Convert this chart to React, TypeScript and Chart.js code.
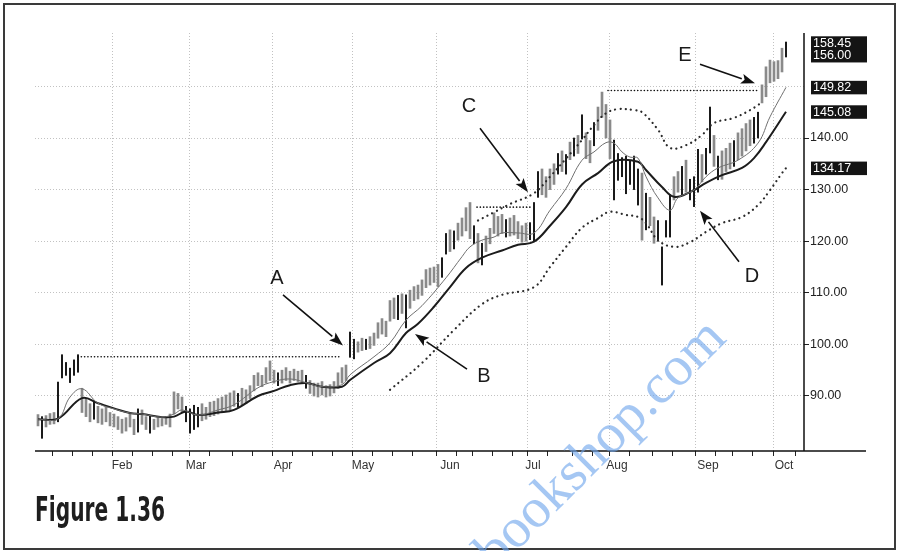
import React, { useEffect, useRef } from 'react';
import { Chart, registerables } from 'chart.js';

Chart.register(...registerables);

// ---- daily high/low bars (trading-day index 0..187) ----
const barLows = [
  84.2, 81.8, 84.0, 84.5, 84.6, 85.0, 93.5, 94.0, 92.6, 94.0,
  94.6, 86.8, 86.0, 85.0, 85.5, 84.8, 84.5, 85.0, 84.2, 84.0,
  83.5, 82.8, 83.2, 84.0, 82.5, 83.0, 84.5, 83.5, 82.8, 83.5,
  84.0, 84.2, 84.5, 84.0, 86.5, 87.5, 86.8, 85.0, 82.8, 83.5,
  84.0, 85.2, 85.5, 86.0, 86.2, 86.5, 86.8, 87.0, 87.3, 88.0,
  87.8, 88.3, 88.5, 89.5, 91.0, 92.0, 91.8, 92.5, 93.0, 92.5,
  92.0, 92.5, 93.0, 92.5, 93.0, 92.8, 92.5, 91.5, 90.5, 90.0,
  89.8, 90.2, 89.8, 90.0, 90.6, 91.5, 92.5, 93.0, 97.5, 97.2,
  98.5, 98.8, 99.0, 99.2, 99.8, 101.2, 102.0, 101.5, 104.5, 105.0,
  104.8, 106.0, 103.2, 107.0, 108.5, 108.8, 109.5, 111.0, 111.5, 112.0,
  111.2, 113.0, 117.5, 118.0, 118.5, 120.2, 121.0, 122.0, 120.5, 119.5,
  115.8, 115.4, 118.0, 119.5, 121.5, 121.0, 121.5, 120.8, 121.0, 121.2,
  120.5, 119.8, 120.0, 120.3, 120.0, 128.5, 129.0, 128.5, 130.0, 131.0,
  133.0, 133.5, 133.0, 135.8, 136.5, 137.0, 139.8, 136.0, 135.2, 138.5,
  141.5, 144.0, 140.0, 136.0, 128.0, 131.8, 132.5, 129.2, 131.0, 130.0,
  127.0, 120.2, 122.2, 123.0, 119.6, 120.0, 111.5, 120.8, 120.8, 128.0,
  129.5, 129.0, 129.5, 128.0, 126.7, 129.5, 131.5, 133.0, 137.1, 134.5,
  131.9, 132.0, 133.5, 134.0, 134.5, 135.8, 136.5, 137.5, 138.5, 139.0,
  140.0, 146.8, 148.0, 150.7, 151.0, 151.5, 152.8, 155.7,
];
const barHighs = [
  86.4, 86.0, 86.2, 86.6, 86.8, 92.7, 98.0, 96.5, 95.4, 97.0,
  98.0, 91.5, 89.5, 88.5, 89.0, 88.0, 87.5, 87.8, 86.8, 86.5,
  86.0, 85.5, 85.8, 86.5, 85.5, 87.5, 87.3, 86.0, 86.2, 85.5,
  85.8, 85.6, 86.0, 86.5, 90.8, 90.5, 89.8, 88.0, 87.5, 88.2,
  87.8, 88.5, 87.8, 88.8, 89.0, 89.5, 89.8, 90.2, 90.6, 91.0,
  90.5, 91.5, 91.2, 92.0, 94.0, 94.5, 94.0, 95.5, 96.8, 95.0,
  94.5, 95.0, 95.5, 94.8, 95.2, 94.8, 95.0, 94.0, 93.0, 92.5,
  92.5, 92.8, 92.0, 92.2, 92.8, 94.5, 95.5, 96.0, 102.4, 101.0,
  100.5, 101.2, 101.0, 101.5, 102.2, 104.2, 105.0, 104.5, 108.5, 109.0,
  109.5, 109.8, 109.6, 110.5, 111.2, 111.5, 112.5, 114.5, 114.8, 115.0,
  115.5, 116.8, 121.5, 122.2, 122.0, 123.5, 124.5, 126.5, 127.5, 123.0,
  121.5, 119.6, 121.0, 122.5, 125.5, 124.8, 125.2, 124.2, 124.5, 125.0,
  123.8, 123.0, 123.5, 123.6, 127.5, 133.5, 134.0, 132.5, 134.0, 135.0,
  137.0, 137.5, 136.8, 139.2, 140.0, 140.5, 144.5, 141.0, 139.5, 143.0,
  146.0, 148.9, 146.5, 143.5, 139.6, 137.0, 136.2, 136.5, 135.5, 136.5,
  134.0, 133.2, 129.3, 128.5, 124.7, 124.0, 118.9, 124.0, 129.0, 132.5,
  133.5, 134.5, 135.7, 132.0, 132.5, 137.8, 136.8, 138.0, 146.0, 140.5,
  136.5, 137.5, 138.0, 139.0, 139.5, 141.0, 141.8, 142.8, 143.5, 144.0,
  145.0, 150.3, 153.8, 155.1, 154.8, 155.0, 157.4, 158.6,
];
// g = grey bar, k = black bar (one letter per trading day)
const barTones = (
  'gkgggkkkkk' + 'kgggkggggg' + 'gggggkggkg' + 'gggggggkkk' +
  'kggggggggg' + 'kggggggggg' + 'kggggggkgg' + 'ggggggggkk' +
  'ggkggggggg' + 'kgkggggggg' + 'gkkgkggggk' + 'gkgggggkgg' +
  'gggkkkgggg' + 'kgkgkgkggk' + 'ggggkkkkkk' + 'kgkggkkkkg' +
  'gkgkkkgkkg' + 'kgggkggggk' + 'kggggggk'
).split('');

// ---- moving averages ----
const fastMaDays = [0, 5, 8, 11, 15, 19, 23, 26, 31, 34, 36, 40, 45, 49, 55, 59, 63, 67, 71, 76, 78, 84, 88, 92, 96, 102, 106, 108, 111, 114, 116, 120, 124, 128, 132, 136, 139, 142, 144, 146, 148, 150, 152, 155, 158, 160, 164, 167, 170, 175, 180, 183, 187];
const fastMaValues = [85.5, 85.6, 89.8, 91.4, 88.6, 87.5, 86.7, 86.5, 85.9, 86.5, 87.3, 86.3, 87.3, 88.3, 91.6, 92.8, 93.3, 92.6, 91.8, 92.2, 94.1, 97.6, 100.3, 104.7, 107.5, 112.9, 117.0, 118.9, 120.2, 120.8, 121.6, 121.6, 121.6, 126.0, 130.2, 135.7, 137.3, 139.1, 139.0, 137.3, 136.3, 136.1, 132.5, 128.4, 126.0, 128.4, 129.9, 132.5, 134.2, 135.7, 139.0, 144.1, 149.82];
const slowMaDays = [0, 5, 11, 15, 19, 23, 26, 31, 34, 37, 40, 45, 49, 55, 59, 63, 67, 71, 76, 78, 84, 88, 92, 95, 99, 103, 107, 111, 116, 120, 124, 128, 132, 136, 140, 144, 150, 152, 156, 159, 163, 167, 171, 176, 179, 182, 187];
const slowMaValues = [85.5, 85.6, 89.6, 88.6, 87.6, 86.7, 86.5, 85.9, 86.0, 87.0, 86.3, 86.8, 87.3, 90.0, 91.0, 92.1, 92.5, 91.8, 91.8, 93.1, 96.4, 98.3, 102.2, 104.0, 107.3, 111.1, 114.8, 116.8, 118.2, 119.3, 119.9, 123.0, 126.6, 131.0, 133.2, 135.5, 135.4, 133.8, 130.5, 128.6, 129.5, 131.3, 132.8, 134.2, 136.1, 139.2, 145.08];

// ---- envelope bands ----
const upperBandDays = [110, 114, 118, 124, 128, 132, 136, 139, 142, 145, 149, 151, 155, 158, 162, 166, 169, 174, 178, 180, 181];
const upperBandValues = [124.0, 125.6, 127.2, 129.3, 132.5, 136.0, 139.6, 142.5, 144.8, 145.6, 145.4, 145.0, 141.6, 138.1, 138.6, 140.6, 142.9, 143.9, 145.4, 146.4, 147.0];
const lowerBandDays = [88, 96, 104, 111, 116, 124, 128, 132, 136, 140, 143, 147, 150, 152, 155, 159, 163, 167, 171, 176, 180, 183, 186, 187];
const lowerBandValues = [91.2, 96.4, 102.8, 107.8, 109.6, 111.1, 115.0, 118.9, 122.6, 124.5, 125.7, 125.1, 124.7, 123.5, 120.2, 118.9, 119.8, 121.8, 123.5, 124.7, 127.0, 129.9, 133.2, 134.17];

// ---- horizontal dotted resistance lines ----
const resistanceStart = [10, 109.75, 142.5];
const resistanceEnd = [76, 123.5, 180];
const resistanceValue = [97.6, 126.6, 149.2];

// ---- axes ----
const monthLabels = ['Feb', 'Mar', 'Apr', 'May', 'Jun', 'Jul', 'Aug', 'Sep', 'Oct'];
const monthDays = [21, 39.5, 61.25, 81.25, 103, 123.75, 144.75, 167.5, 186.5];
const extraGridDays = [1];
const priceTicks = [90, 100, 110, 120, 130, 140];
const priceGridLines = [90, 100, 110, 120, 130, 140, 150];

// ---- right-hand value flags ----
const flagTexts = ['158.45', '156.00', '149.82', '145.08', '134.17'];
const flagValues = [158.45, 156.0, 149.82, 145.08, 134.17];

// ---- letter annotations (day index, price) ----
const noteLetters = ['A', 'B', 'C', 'D', 'E'];
const noteAt = [[59.75, 112.7], [111.5, 93.7], [107.75, 146.2], [178.5, 113.1], [161.75, 155.9]];
const arrowFrom = [[61.25, 109.6], [107.25, 95.2], [110.5, 141.9], [175.25, 116.0], [165.5, 154.3]];
const arrowTo = [[76.25, 99.8], [94.25, 102.0], [122.5, 129.5], [165.5, 125.9], [179.25, 150.6]];

const captionText = 'Figure 1.36';
const watermarkText = 'www.ebookshop.com';

const SANS = "'Liberation Sans', Arial, sans-serif";

function pts(days: number[], vals: number[]) {
  return days.map((d, i) => ({ x: d, y: vals[i] }));
}

export default function App() {
  const ref = useRef<HTMLCanvasElement>(null);

  useEffect(() => {
    document.body.style.margin = '0';
    const canvas = ref.current!;

    const weekly: number[] = [];
    for (let d = 1; d <= 190; d += 5) {
      if (monthDays.every((m) => Math.abs(m - d) > 2.6)) weekly.push(d);
    }
    const xTicks = Array.from(new Set([...weekly, ...monthDays, ...extraGridDays])).sort((a, b) => a - b);
    const gridDays = [...monthDays, ...extraGridDays];

    const idx = barLows.map((_, i) => i);
    const greyBars = idx.filter((i) => barTones[i] !== 'k').map((i) => ({ x: i, y: [barLows[i], barHighs[i]] }));
    const blackBars = idx.filter((i) => barTones[i] === 'k').map((i) => ({ x: i, y: [barLows[i], barHighs[i]] }));

    const resistanceSets = resistanceValue.map((v, k) => ({
      type: 'line' as const,
      data: [{ x: resistanceStart[k], y: v }, { x: resistanceEnd[k], y: v }],
      borderColor: '#111',
      borderWidth: 1.6,
      borderDash: [0.1, 3.2],
      borderCapStyle: 'round' as const,
      pointRadius: 0,
      order: 2,
    }));

    const overlay = {
      id: 'overlay',
      afterDatasetsDraw(chart: any) {
        const ctx: CanvasRenderingContext2D = chart.ctx;
        const xs = chart.scales.x;
        const ys = chart.scales.y;
        const ca = chart.chartArea;
        ctx.save();
        // axes lines
        ctx.strokeStyle = '#111';
        ctx.lineWidth = 1.5;
        ctx.beginPath();
        ctx.moveTo(ca.right, ca.top);
        ctx.lineTo(ca.right, ca.bottom);
        ctx.moveTo(ca.left, ca.bottom);
        ctx.lineTo(866, ca.bottom);
        ctx.stroke();

        // arrows
        ctx.fillStyle = '#111';
        ctx.strokeStyle = '#111';
        ctx.lineWidth = 1.6;
        arrowFrom.forEach((f, k) => {
          const x1 = xs.getPixelForValue(f[0]);
          const y1 = ys.getPixelForValue(f[1]);
          const x2 = xs.getPixelForValue(arrowTo[k][0]);
          const y2 = ys.getPixelForValue(arrowTo[k][1]);
          const a = Math.atan2(y2 - y1, x2 - x1);
          const L = 14;
          const W = 5;
          const bx = x2 - L * Math.cos(a);
          const by = y2 - L * Math.sin(a);
          ctx.beginPath();
          ctx.moveTo(x1, y1);
          ctx.lineTo(bx, by);
          ctx.stroke();
          ctx.beginPath();
          ctx.moveTo(x2, y2);
          ctx.lineTo(bx + W * Math.sin(a), by - W * Math.cos(a));
          ctx.lineTo(bx + 3 * Math.cos(a), by + 3 * Math.sin(a));
          ctx.lineTo(bx - W * Math.sin(a), by + W * Math.cos(a));
          ctx.closePath();
          ctx.fill();
        });
        // letters
        ctx.font = `20px ${SANS}`;
        ctx.textAlign = 'center';
        ctx.textBaseline = 'middle';
        ctx.fillStyle = '#1a1a1a';
        noteLetters.forEach((t, k) => {
          ctx.fillText(t, xs.getPixelForValue(noteAt[k][0]), ys.getPixelForValue(noteAt[k][1]));
        });

        // flags
        const boxL = 811;
        const boxW = 56;
        const drawBox = (top: number, bottom: number) => {
          ctx.fillStyle = '#141414';
          ctx.fillRect(boxL, top, boxW, bottom - top);
        };
        const y0 = ys.getPixelForValue(flagValues[0]);
        const y1 = ys.getPixelForValue(flagValues[1]);
        drawBox(y0 - 6.5, y1 + 7);
        for (let k = 2; k < flagValues.length; k++) {
          const yy = ys.getPixelForValue(flagValues[k]);
          drawBox(yy - 6.5, yy + 7);
        }
        ctx.fillStyle = '#fff';
        ctx.font = `12.5px ${SANS}`;
        ctx.textAlign = 'left';
        ctx.textBaseline = 'middle';
        flagTexts.forEach((t, k) => {
          ctx.fillText(t, boxL + 2, ys.getPixelForValue(flagValues[k]) + 0.5);
        });
        ctx.restore();
      },
      afterDraw(chart: any) {
        const ctx: CanvasRenderingContext2D = chart.ctx;
        ctx.save();
        // caption
        ctx.fillStyle = '#1e1e1e';
        ctx.font = `bold 33px 'Liberation Sans Narrow', 'DejaVu Sans Condensed', 'Liberation Sans', sans-serif`;
        ctx.textAlign = 'left';
        ctx.textBaseline = 'alphabetic';
        const w = ctx.measureText(captionText).width;
        ctx.save();
        ctx.translate(35, 521);
        ctx.scale(130 / w, 1);
        ctx.fillText(captionText, 0, 0);
        ctx.restore();
        // frame
        ctx.strokeStyle = '#3a3a3a';
        ctx.lineWidth = 2;
        ctx.strokeRect(4, 4, 891, 545);
        // watermark
        ctx.translate(728, 340);
        ctx.rotate(-Math.PI / 4);
        ctx.font = `56px 'Liberation Serif', serif`;
        ctx.fillStyle = 'rgba(110, 165, 235, 0.62)';
        ctx.textAlign = 'right';
        ctx.textBaseline = 'alphabetic';
        ctx.fillText(watermarkText, 0, 0);
        ctx.restore();
      },
    };

    const chart = new Chart(canvas, {
      type: 'bar',
      data: {
        datasets: [
          { type: 'line', data: pts(fastMaDays, fastMaValues), borderColor: '#707070', borderWidth: 1, pointRadius: 0, tension: 0.4, order: 1 },
          { type: 'line', data: pts(slowMaDays, slowMaValues), borderColor: '#1c1c1c', borderWidth: 2, pointRadius: 0, tension: 0.4, order: 1 },
          { type: 'line', data: pts(upperBandDays, upperBandValues), borderColor: '#2a2a2a', borderWidth: 2.2, borderDash: [0.1, 5.2], borderCapStyle: 'round', pointRadius: 0, tension: 0.4, order: 1 },
          { type: 'line', data: pts(lowerBandDays, lowerBandValues), borderColor: '#2a2a2a', borderWidth: 2.2, borderDash: [0.1, 5.2], borderCapStyle: 'round', pointRadius: 0, tension: 0.4, order: 1 },
          ...resistanceSets,
          { type: 'bar', data: greyBars as any, backgroundColor: '#8a8a8a', barThickness: 2, grouped: false, borderWidth: 0, order: 5 },
          { type: 'bar', data: blackBars as any, backgroundColor: '#1a1a1a', barThickness: 1.4, grouped: false, borderWidth: 0, order: 5 },
        ] as any,
      },
      options: {
        responsive: false,
        animation: false,
        events: [],
        layout: { padding: { left: 35, top: 33, right: 0, bottom: 0 } },
        plugins: { legend: { display: false }, tooltip: { enabled: false } },
        scales: {
          x: {
            type: 'linear',
            min: -0.75,
            max: 191.5,
            offset: false,
            afterFit: (s: any) => { s.height = 100; },
            afterBuildTicks: (s: any) => { s.ticks = xTicks.map((v) => ({ value: v })); },
            ticks: {
              autoSkip: false,
              maxRotation: 0,
              minRotation: 0,
              padding: 2,
              color: '#333',
              font: { family: SANS, size: 12 },
              callback: (v: any) => {
                const k = monthDays.indexOf(Number(v));
                return k >= 0 ? monthLabels[k] : '';
              },
            },
            grid: {
              color: (c: any) => (gridDays.includes(c.tick?.value) ? '#c2c2c2' : 'rgba(0,0,0,0)'),
              lineWidth: 1,
              drawTicks: true,
              tickLength: 5,
              tickColor: '#222',
              tickWidth: 1,
            },
            border: { display: false, dash: [1, 2] },
          },
          y: {
            type: 'linear',
            position: 'right',
            min: 79.34,
            max: 160.35,
            afterFit: (s: any) => { s.width = 94; },
            afterBuildTicks: (s: any) => { s.ticks = priceGridLines.map((v) => ({ value: v })); },
            ticks: {
              padding: 1,
              color: '#222',
              font: { family: SANS, size: 12.5 },
              callback: (v: any) => (priceTicks.includes(Number(v)) ? Number(v).toFixed(2) : ''),
            },
            grid: {
              color: '#c2c2c2',
              lineWidth: 1,
              tickLength: 5,
              tickColor: (c: any) => (priceTicks.includes(c.tick?.value) ? '#222' : 'rgba(0,0,0,0)'),
              tickWidth: 1,
            },
            border: { display: false, dash: [1, 2] },
          },
        },
      } as any,
      plugins: [overlay],
    });

    return () => chart.destroy();
  }, []);

  return (
    <div style={{ width: 898, height: 551, position: 'relative', background: '#fff' }}>
      <canvas ref={ref} width={898} height={551} style={{ display: 'block', width: 898, height: 551 }} />
    </div>
  );
}
